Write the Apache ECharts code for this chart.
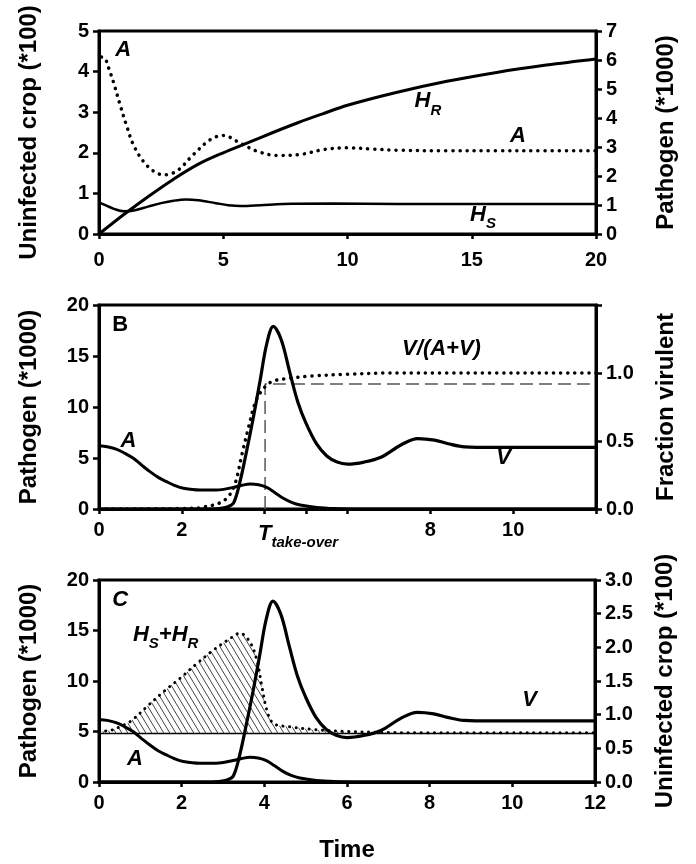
<!DOCTYPE html>
<html>
<head>
<meta charset="utf-8">
<script src="https://cdn.jsdelivr.net/npm/echarts@6/dist/echarts.min.js"></script>
<style>
html, body { margin: 0; padding: 0; background: #fff; }
#main { width: 696px; height: 864px; }
</style>
</head>
<body>
<div id="main"></div>
<script>
// ---- panel A (time 0..20) ----
var hrT = [0, 1, 2, 3, 4, 5, 6, 7, 8, 9, 10, 12, 14, 16, 18, 20];
var hrV = [0, 0.48, 0.93, 1.35, 1.72, 2.0, 2.25, 2.5, 2.74, 2.96, 3.17, 3.49, 3.76, 3.98, 4.16, 4.31];
var hsT = [0, 0.3, 0.6, 1.0, 1.4, 2.0, 2.5, 3.0, 3.5, 4.0, 4.7, 5.2, 5.7, 6.5, 7.4, 9.4, 12, 16, 20];
var hsV = [0.78, 0.7, 0.62, 0.56, 0.58, 0.68, 0.76, 0.82, 0.85, 0.83, 0.76, 0.71, 0.69, 0.71, 0.74, 0.75, 0.74, 0.74, 0.74];
var aT = [0.1, 0.24, 0.4, 0.58, 0.85, 1.12, 1.38, 1.78, 2.19, 2.59, 3.13, 3.8, 4.47, 5.0, 5.67, 6.35, 7.15, 8.09, 9.03, 9.97, 11, 12, 14, 16, 18, 20];
var aV = [6.1, 6.06, 5.7, 5.24, 4.45, 3.71, 3.08, 2.51, 2.17, 2.04, 2.17, 2.74, 3.25, 3.4, 3.14, 2.86, 2.71, 2.74, 2.91, 2.97, 2.93, 2.89, 2.87, 2.87, 2.87, 2.87];

// ---- panels B and C (time 0..12) ----
var abT = [0, 0.2, 0.43, 0.63, 0.83, 1.03, 1.23, 1.43, 1.63, 1.83, 2.04, 2.44, 2.84, 3.24, 3.45, 3.65, 3.85, 4.05, 4.25, 4.45, 4.65, 4.86, 5.26, 5.7, 6.2, 7, 12];
var abV = [6.2, 6.1, 5.85, 5.45, 4.97, 4.3, 3.66, 3.1, 2.68, 2.3, 2.03, 1.86, 1.86, 2.12, 2.32, 2.45, 2.38, 2.12, 1.6, 1.05, 0.65, 0.39, 0.16, 0.05, 0.01, 0, 0];
var vT = [0, 2.5, 2.9, 3.1, 3.25, 3.4, 3.57, 3.73, 3.89, 4.05, 4.21, 4.4, 4.6, 4.8, 5.0, 5.25, 5.5, 5.75, 6.0, 6.4, 6.82, 7.3, 7.7, 8.1, 8.43, 8.83, 9.5, 12];
var vV = [0, 0, 0.05, 0.2, 0.6, 2.6, 5.8, 9.05, 12.6, 16.2, 17.9, 16.6, 13.5, 10.5, 8.4, 6.4, 5.2, 4.6, 4.4, 4.6, 5.1, 6.3, 6.9, 6.75, 6.4, 6.1, 6.05, 6.05];
var fT = [0, 2.3, 2.56, 2.88, 3.12, 3.29, 3.45, 3.61, 3.77, 3.93, 4.17, 4.57, 5.14, 5.94, 7, 12];
var fV = [0, 0.005, 0.017, 0.04, 0.09, 0.19, 0.4, 0.6, 0.78, 0.87, 0.936, 0.96, 0.978, 0.99, 1.0, 1.0];
var takeoverT = [4.01, 4.01, 11.85];
var takeoverV = [0, 0.92, 0.92];
var hsrT = [0, 0.3, 0.5, 0.76, 1.16, 1.56, 1.96, 2.37, 2.77, 3.17, 3.41, 3.65, 3.82, 3.94, 4.06, 4.22, 4.62, 5.19, 6, 8, 12];
var hsrV = [0.75, 0.77, 0.82, 0.9, 1.12, 1.34, 1.54, 1.76, 1.96, 2.13, 2.21, 2.08, 1.81, 1.42, 1.07, 0.87, 0.82, 0.78, 0.75, 0.73, 0.73];
var hsrBase = 0.72;

var xTicksB = [0, 2, 4, 5, 6, 8, 10, 12];
var xLabelsB = [0, 2, 8, 10];

function pts(t, v) {
  return t.map(function (x, i) { return [x, v[i]]; });
}

var font = 'Liberation Sans';
var myChart = echarts.init(document.getElementById('main'));

// diagonal hatch for the H_S+H_R area
var hatch = document.createElement('canvas');
hatch.width = 6;
hatch.height = 10;
var ctx = hatch.getContext('2d');
ctx.strokeStyle = '#444';
ctx.lineWidth = 1;
for (var k = -1; k <= 1; k++) {
  ctx.beginPath();
  ctx.moveTo(k * 6, 0);
  ctx.lineTo(k * 6 + 6, 10);
  ctx.stroke();
}

function yAx(gi, pos, max, interval, name, fmt) {
  return {
    type: 'value', gridIndex: gi, position: pos, min: 0, max: max, interval: interval,
    name: name, nameLocation: 'middle', nameGap: 58,
    nameTextStyle: { fontFamily: font, fontWeight: 'bold', fontSize: 24, color: '#000' },
    axisLine: { show: true, lineStyle: { color: '#000', width: 3 } },
    axisTick: { show: true, inside: false, length: 6, lineStyle: { color: '#000', width: 2.5 } },
    axisLabel: { fontFamily: font, fontWeight: 'bold', fontSize: 20, color: '#000', margin: 10, formatter: fmt },
    splitLine: { show: false }
  };
}

function xAx(gi, max, interval, margin) {
  return {
    type: 'value', gridIndex: gi, min: 0, max: max, interval: interval,
    axisLine: { show: true, onZero: false, lineStyle: { color: '#000', width: 3 } },
    axisTick: { show: true, inside: false, length: 5, lineStyle: { color: '#000', width: 2.5 } },
    axisLabel: { fontFamily: font, fontWeight: 'bold', fontSize: 20, color: '#000', margin: margin },
    splitLine: { show: false }
  };
}

var dotted = { color: '#000', width: 3.5, type: [0.1, 7], cap: 'round' };

function line(xi, yi, data, style, z) {
  return {
    type: 'line', xAxisIndex: xi, yAxisIndex: yi, data: data, smooth: 0.35,
    symbol: 'none', silent: true, z: z || 3, lineStyle: style
  };
}

var xB = xAx(1, 12, 1, 11);
xB.axisTick.customValues = xTicksB;
xB.axisLabel.customValues = xLabelsB;
var xC = xAx(2, 12, 2, 11);
xC.name = 'Time';
xC.nameLocation = 'middle';
xC.nameGap = 56;
xC.nameTextStyle = { fontFamily: font, fontWeight: 'bold', fontSize: 24, color: '#000' };

var fmt1 = function (v) { return v.toFixed(1); };

var hsrSeries = line(2, 5, pts(hsrT, hsrV), { color: '#000', width: 3, type: [0.1, 6.5], cap: 'round' });
hsrSeries.areaStyle = { color: { image: hatch, repeat: 'repeat' }, opacity: 1, origin: hsrBase };

myChart.setOption({
  animation: false,
  grid: [
    { left: 99, width: 497, top: 31, height: 203, show: true, borderColor: '#000', borderWidth: 3 },
    { left: 99, width: 497, top: 305, height: 204, show: true, borderColor: '#000', borderWidth: 3 },
    { left: 99, width: 496, top: 580, height: 202, show: true, borderColor: '#000', borderWidth: 3 }
  ],
  xAxis: [xAx(0, 20, 5, 16), xB, xC],
  yAxis: [
    yAx(0, 'left', 5, 1, 'Uninfected crop (*100)'),
    yAx(0, 'right', 7, 1, 'Pathogen (*1000)'),
    yAx(1, 'left', 20, 5, 'Pathogen (*1000)'),
    yAx(1, 'right', 1.5, 0.5, 'Fraction virulent', function (v) { return v === 1.5 ? '' : v.toFixed(1); }),
    yAx(2, 'left', 20, 5, 'Pathogen (*1000)'),
    yAx(2, 'right', 3, 0.5, 'Uninfected crop (*100)', fmt1)
  ],
  series: [
    line(0, 0, pts(hrT, hrV), { color: '#000', width: 3 }),
    line(0, 0, pts(hsT, hsV), { color: '#000', width: 2.5 }),
    line(0, 1, pts(aT, aV), dotted),

    line(1, 2, pts(abT, abV), { color: '#000', width: 3 }),
    line(1, 2, pts(vT, vV), { color: '#000', width: 3.2 }),
    line(1, 3, pts(fT, fV), dotted),
    { type: 'line', xAxisIndex: 1, yAxisIndex: 3, data: pts(takeoverT, takeoverV), symbol: 'none', silent: true,
      lineStyle: { color: '#555', width: 1.5, type: [13, 6] }, z: 2 },

    hsrSeries,
    { type: 'line', xAxisIndex: 2, yAxisIndex: 5, symbol: 'none', silent: true,
      data: [[0, hsrBase], [12, hsrBase]], lineStyle: { color: '#000', width: 1.5 }, z: 2 },
    line(2, 4, pts(abT, abV), { color: '#000', width: 3 }),
    line(2, 4, pts(vT, vV), { color: '#000', width: 3.2 })
  ]
});

// curve and panel labels, placed in data coordinates
var mainF = { fontFamily: font, fontWeight: 'bold', fontStyle: 'italic', fontSize: 22, lineHeight: 24, padding: [0, 0, 6, 0], verticalAlign: 'bottom', fill: '#000' };
var subF = { fontFamily: font, fontWeight: 'bold', fontStyle: 'italic', fontSize: 15, lineHeight: 16, verticalAlign: 'bottom', fill: '#000' };
var uF = Object.assign({}, mainF, { fontStyle: 'normal' });
var labels = [
  [0, 0, 0.97, 4.41, '{m|A}', 'center'],
  [0, 0, 12.7, 3.15, '{m|H}{s|R}', 'left'],
  [0, 0, 16.86, 2.29, '{m|A}', 'center'],
  [0, 0, 14.93, 0.35, '{m|H}{s|S}', 'left'],
  [1, 2, 0.51, 17.6, '{u|B}', 'center'],
  [1, 2, 0.71, 6.2, '{m|A}', 'center'],
  [1, 2, 8.27, 15.25, '{m|V/(A+V)}', 'center'],
  [1, 2, 9.77, 4.56, '{m|V}', 'center'],
  [1, 2, 3.84, -2.9, '{m|T}{s|take-over}', 'left'],
  [2, 4, 0.51, 17.5, '{m|C}', 'center'],
  [2, 4, 0.82, 14.1, '{m|H}{s|S}{m|+H}{s|R}', 'left'],
  [2, 4, 0.87, 1.83, '{m|A}', 'center'],
  [2, 4, 10.42, 7.67, '{m|V}', 'center']
];
myChart.setOption({
  graphic: labels.map(function (l) {
    var p = myChart.convertToPixel({ xAxisIndex: l[0], yAxisIndex: l[1] }, [l[2], l[3]]);
    return {
      type: 'text', x: p[0], y: p[1], silent: true, z: 10,
      style: { text: l[4], align: l[5], verticalAlign: 'middle', rich: { m: mainF, s: subF, u: uF } }
    };
  })
});
</script>
</body>
</html>
